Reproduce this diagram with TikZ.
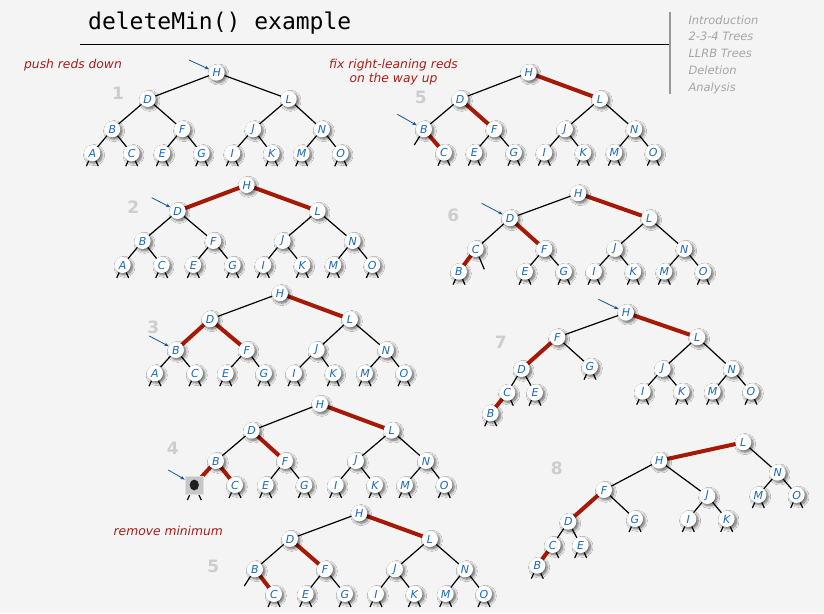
\documentclass[tikz,border=0pt]{standalone}
\usepackage{fontspec}
\usetikzlibrary{shadows.blur,arrows.meta,backgrounds}
\newfontfamily\dvs{DejaVu Sans}
\newfontfamily\dvsmono{DejaVu Sans Mono}
\definecolor{bgc}{RGB}{244,244,244}
\definecolor{nodeblue}{RGB}{25,105,195}
\definecolor{arrowblue}{RGB}{25,85,150}
\definecolor{redtext}{RGB}{170,30,20}
\definecolor{redE}{RGB}{165,25,5}
\definecolor{numgray}{RGB}{205,205,205}
\definecolor{navgray}{RGB}{165,165,165}
\tikzset{
  tn/.style={circle, fill=white, minimum size=16pt, inner sep=0pt, text=nodeblue,
    font=\dvs\itshape\fontsize{11}{12}\selectfont,
    blur shadow={shadow xshift=1.8pt, shadow yshift=-1.8pt, shadow blur steps=8, shadow opacity=60, shadow blur radius=2.5pt}},
  holebox/.style={rectangle, minimum size=18pt, inner sep=0pt, fill=gray!45, draw=gray!25, line width=1pt},
  edge/.style={line width=1.2pt, black},
  redge/.style={line width=4pt, redE},
  ptr/.style={line width=0.8pt, arrowblue, -{Stealth[length=4.5pt,width=3.5pt]}},
  num/.style={text=numgray, font=\dvs\bfseries\fontsize{17}{20}\selectfont},
  note/.style={text=redtext, font=\dvs\itshape\fontsize{12.3}{14.7}\selectfont},
  nav/.style={text=navgray, font=\dvs\itshape\fontsize{11.5}{14}\selectfont, anchor=base west},
}
\newcommand\placenodes[2]{\foreach \n/\x/\y in {#2} {\node[tn] (#1\n) at (\x,\y) {\n};}}
\newcommand\blackedges[2]{\foreach \a/\b in {#2} {\draw[edge] (#1\a) -- (#1\b);}}
\newcommand\rededges[2]{\foreach \a/\b in {#2} {\draw[redge] (#1\a.center) -- (#1\b.center);}}
\newcommand\nullstubs[2]{\foreach \n in {#2} {\draw[edge] (#1\n.245) -- ++(-2.5,5.5); \draw[edge] (#1\n.295) -- ++(2.5,5.5);}}
\newcommand\rightstub[1]{\draw[edge] (#1.295) -- ++(2.5,5.5);}
\begin{document}
\begin{tikzpicture}[x=1pt,y=-1pt]
\useasboundingbox (0,0) rectangle (824,613);
% title and navigation
\node[anchor=base west, font=\dvsmono\fontsize{23}{26}\selectfont, inner sep=0pt] (title) at (88,29) {deleteMin() example};
\coordinate (rl) at (80,44); \coordinate (rr) at (669,44);
\draw[line width=1pt] (rl) -- (rr);
\coordinate (vt) at (670,12); \coordinate (vb) at (670,94);
\draw[line width=1.5pt, gray!80] (vt) -- (vb);
\node[nav] (n1) at (685,24) {Introduction};
\node[nav] (n2) at (685,40.8) {2-3-4 Trees};
\node[nav] (n3) at (685,57.6) {LLRB Trees};
\node[nav] (n4) at (685,74.6) {Deletion};
\node[nav] (n5) at (685,91.4) {Analysis};
% notes
\node[note, anchor=base] (push) at (73,68) {push reds down};
\node[note, anchor=base] (fix1) at (393.5,68.3) {fix right-leaning reds};
\node[note, anchor=base] (fix2) at (393.5,82.6) {on the way up};
\node[note, anchor=base] (rem) at (168.3,535.7) {remove minimum};
% step numbers
\node[num] (l1) at (118,93) {1};
\node[num] (l2) at (133.3,206.7) {2};
\node[num] (l3) at (153.3,327.7) {3};
\node[num] (l4) at (172.7,448.3) {4};
\node[num] (l5b) at (213.3,566.7) {5};
\node[num] (l5) at (420.7,97.7) {5};
\node[num] (l6) at (453.3,215) {6};
\node[num] (l7) at (500.7,342.7) {7};
\node[num] (l8) at (556.7,468.3) {8};

% ---- tree 1
\placenodes{a}{H/216.7/72.7, D/147.7/99, L/288.7/99, B/112.3/129.3, F/182.3/129.3, J/253.3/129.3, N/322/129.3, A/92.3/153.3, C/131.7/153.3, E/162.3/153.3, G/201.7/153.3, I/232.3/153.3, K/271.7/153.3, M/301.7/153.3, O/340.7/153.3}
% ---- tree 2
\placenodes{b}{H/246.7/185, D/177.7/211, L/317.7/211, B/142.7/241, F/213.3/241, J/282.7/241, N/352.7/241, A/122.7/265, C/161.7/265, E/193.3/265, G/232.7/265, I/263.3/265, K/302.3/265, M/333.3/265, O/372.3/265}
% ---- tree 3
\placenodes{c}{H/280/293.3, D/210/319.3, L/350/319.3, B/176/350, F/246.7/350, J/316.7/350, N/386/350, A/155/373.3, C/195/373.3, E/225.7/373.3, G/264/373.3, I/294/373.3, K/333.3/373.3, M/365/373.3, O/404/373.3}
% ---- tree 4
\placenodes{d}{H/320/404, D/251.7/430.7, L/391.7/430.7, B/216/461, F/285/461, J/356/461, N/426/461, C/235/485, E/265.7/485, G/304.3/485, I/335.7/485, K/375/485, M/405/485, O/444.3/485}
\node[holebox] (dX) at (194.3,485) {};
\fill[gray!25!black] (dX.center) ellipse (4.6pt and 5.4pt);
% ---- tree 5 (bottom)
\placenodes{e}{H/359.3/513.3, D/290/539, L/430/539, B/255/569.3, F/325/569.3, J/395/569.3, N/465/569.3, C/274/594, E/305.7/594, G/345/594, I/376/594, K/414.3/594, M/445.7/594, O/484/594}
\coordinate (es) at (244.3,586);
% ---- tree 5 (top right)
\placenodes{f}{H/528.7/72.7, D/460/99, L/600/99, B/424/129.3, F/494.3/129.3, J/565/129.3, N/634.3/129.3, C/444/152.7, E/474.3/152.7, G/514/152.7, I/544.3/152.7, K/583.3/152.7, M/614.3/152.7, O/653.3/152.7}
\coordinate (fs) at (414.3,145);
% ---- tree 6
\placenodes{g}{H/578.3/193.3, D/510/218.3, L/649.3/218.3, C/475.7/249, F/544.3/249, J/615/249, N/684.3/249, B/459/271.7, E/525/271.7, G/564/271.7, I/594/271.7, K/633.3/271.7, M/664.3/271.7, O/703.3/271.7}
\coordinate (gs) at (484.3,269.3);
% ---- tree 7
\placenodes{h}{H/626/312.7, F/557.3/337.3, L/697.3/337.3, D/521.7/369, G/590/366.7, J/662.7/369, N/731.7/369, C/507.3/392.7, E/535/392.7, I/642.7/391.7, K/681.7/391.7, M/712.7/391.7, O/751/391.7, B/490.7/413.3}
% ---- tree 8
\placenodes{k}{L/743.3/442.3, H/659.3/460.7, N/777.7/472.7, F/604/490, J/707.3/496, M/758.3/495, O/796.7/495, D/568.3/521.7, G/635/519, I/688.3/519, K/726.7/519, C/552.7/545, E/580.7/545, B/537.3/565.7}

\begin{pgfonlayer}{background}
\fill[bgc] (0,0) rectangle (824,613);
% tree 1
\blackedges{a}{H/D, H/L, D/B, D/F, L/J, L/N, B/A, B/C, F/E, F/G, J/I, J/K, N/M, N/O}
\nullstubs{a}{A,C,E,G,I,K,M,O}
% tree 2
\blackedges{b}{D/B, D/F, L/J, L/N, B/A, B/C, F/E, F/G, J/I, J/K, N/M, N/O}
\rededges{b}{H/D, H/L}
\nullstubs{b}{A,C,E,G,I,K,M,O}
% tree 3
\blackedges{c}{H/D, L/J, L/N, B/A, B/C, F/E, F/G, J/I, J/K, N/M, N/O}
\rededges{c}{H/L, D/B, D/F}
\nullstubs{c}{A,C,E,G,I,K,M,O}
% tree 4
\blackedges{d}{H/D, D/B, L/J, L/N, F/E, F/G, J/I, J/K, N/M, N/O}
\rededges{d}{H/L, D/F, B/C}
\draw[redge] (dB.center) -- (dX.center);
\nullstubs{d}{X,C,E,G,I,K,M,O}
% tree 5 bottom
\blackedges{e}{H/D, D/B, L/J, L/N, F/E, F/G, J/I, J/K, N/M, N/O}
\rededges{e}{H/L, D/F, B/C}
\draw[edge] (eB) -- (es);
\nullstubs{e}{C,E,G,I,K,M,O}
% tree 5 top
\blackedges{f}{H/D, D/B, L/J, L/N, F/E, F/G, J/I, J/K, N/M, N/O}
\rededges{f}{H/L, D/F, B/C}
\draw[edge] (fB) -- (fs);
\nullstubs{f}{C,E,G,I,K,M,O}
% tree 6
\blackedges{g}{H/D, D/C, L/J, L/N, F/E, F/G, J/I, J/K, N/M, N/O}
\rededges{g}{H/L, D/F, C/B}
\draw[edge] (gC) -- (gs);
\nullstubs{g}{B,E,G,I,K,M,O}
% tree 7
\blackedges{h}{H/F, F/G, D/C, D/E, L/J, L/N, J/I, J/K, N/M, N/O}
\rededges{h}{H/L, F/D, C/B}
\rightstub{hC}
\nullstubs{h}{B,E,G,I,K,M,O}
% tree 8
\blackedges{k}{L/N, N/M, N/O, H/F, H/J, F/G, J/I, J/K, D/C, D/E}
\rededges{k}{L/H, F/D, C/B}
\rightstub{kC}
\nullstubs{k}{B,E,G,I,K,M,O}
\end{pgfonlayer}

% pointer arrows
\coordinate (pa) at (189,60);   \draw[ptr] (pa) -- (aH);
\coordinate (pb) at (151.7,197.7); \draw[ptr] (pb) -- (bD);
\coordinate (pc) at (149.3,336); \draw[ptr] (pc) -- (cB);
\coordinate (pd) at (168.3,470); \draw[ptr] (pd) -- (dX);
\coordinate (pf) at (397.3,114.3); \draw[ptr] (pf) -- (fB);
\coordinate (pg) at (481.7,203.3); \draw[ptr] (pg) -- (gD);
\coordinate (ph) at (598.3,299.3); \draw[ptr] (ph) -- (hH);
\end{tikzpicture}
\end{document}
